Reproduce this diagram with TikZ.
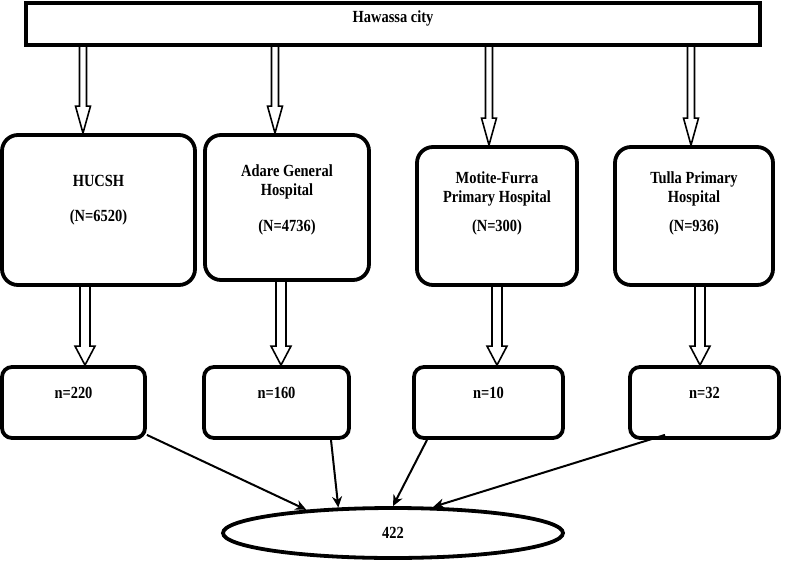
\documentclass[tikz,border=0pt]{standalone}
\usepackage{fontspec}
\newfontfamily\chartfont{Liberation Serif}[FakeStretch=0.85]
\usetikzlibrary{calc, arrows.meta, shapes.geometric}

\tikzset{
  citybox/.style={draw, line width=1.9pt, minimum width=367pt, minimum height=21pt, inner sep=0pt},
  hospbox/.style={draw, line width=1.9pt, rounded corners=8pt, inner sep=0pt},
  countbox/.style={draw, line width=1.9pt, rounded corners=5pt, minimum height=35.5pt, inner sep=0pt},
  chartlabel/.style={font=\chartfont\bfseries\fontsize{8.5}{9.5}\selectfont, inner sep=0pt},
  hollow/.style={line width=0.8pt},
  feed/.style={line width=1pt, -{Stealth[length=5.5pt, width=5pt]}}
}

% block arrow: #1 start, #2 tip, #3 shaft half width, #4 head half width, #5 head length
\newcommand{\hollowarrow}[5]{%
  \draw[hollow] ($(#1)+(-#3,0)$) -- ($(#2)+(-#3,-#5)$) -- ($(#2)+(-#4,-#5)$) -- (#2)
    -- ($(#2)+(#4,-#5)$) -- ($(#2)+(#3,-#5)$) -- ($(#1)+(#3,0)$);}

\begin{document}
\begin{tikzpicture}[x=0.5pt, y=-0.5pt]
    \useasboundingbox (0,0) rectangle (789,563);

    % City
    \node[citybox, chartlabel, text height=8.3pt, text depth=9.7pt] (city) at (393,24) {Hawassa city};

    % Hospitals
    \node[hospbox, minimum width=96.5pt, minimum height=75pt] (hucsh) at (98.5,210) {};
    \node[hospbox, minimum width=82pt, minimum height=72.5pt] (adare) at (287,207.5) {};
    \node[hospbox, minimum width=80pt, minimum height=69pt] (motite) at (497,216) {};
    \node[hospbox, minimum width=79pt, minimum height=69pt] (tulla) at (694,216) {};
    \node[chartlabel, align=center] (hucsh-txt) at ([yshift=5pt]hucsh.center) {HUCSH\\[8pt](N=6520)};
    \node[chartlabel, align=center] (adare-txt) at ([yshift=4pt]adare.center) {Adare General\\Hospital\\[8.5pt](N=4736)};
    \node[chartlabel, align=center] (motite-txt) at ([yshift=6.25pt]motite.center) {Motite-Furra\\Primary Hospital\\[5pt](N=300)};
    \node[chartlabel, align=center] (tulla-txt) at ([yshift=6.25pt]tulla.center) {Tulla Primary\\Hospital\\[5pt](N=936)};

    % Sample sizes
    \foreach \name/\cx/\w/\val in {hucsh-n/73.5/71.5pt/220, adare-n/276.5/72.5pt/160,
                                   motite-n/488.5/74.5pt/10, tulla-n/704.5/74.5pt/32} {
        \node[countbox, minimum width=\w] (\name) at (\cx,402.5) {};
        \node[chartlabel] (\name-txt) at ([yshift=4.75pt]\name.center) {n=\val};
    }

    % Total
    \node[draw, ellipse, line width=1.9pt, minimum width=170pt, minimum height=25pt, inner sep=0pt,
          font=\chartfont\bfseries\fontsize{8.5}{9.5}\selectfont] (total) at (393,533) {422};

    % Block arrows city -> hospitals -> samples
    \foreach \hosp/\dx in {hucsh/-7.75pt, adare/-6pt, motite/-4pt, tulla/-1.5pt}
        \coordinate (\hosp-in) at ([xshift=\dx]\hosp.north);
    \foreach \hosp/\dx in {hucsh/5.75pt, adare/2.25pt, motite/4.25pt, tulla/-2.25pt}
        \coordinate (\hosp-out) at ([xshift=\dx]\hosp-n.north);
    \foreach \hosp in {hucsh, adare, motite, tulla} {
        \hollowarrow{city.south -| \hosp-in}{\hosp-in}{3.5}{7.5}{27}
        \hollowarrow{\hosp.south -| \hosp-out}{\hosp-out}{5}{10}{19}
    }

    % Samples -> total
    \draw[feed] ([yshift=2.5pt]hucsh-n.south east) -- (total.165);
    \draw[feed] ([xshift=27.25pt]adare-n.south) -- (total.155);
    \draw[feed] ([xshift=-30.75pt]motite-n.south) -- (total.north);
    \draw[feed] ([xshift=-19.75pt, yshift=2.5pt]tulla-n.south) -- (total.33);
\end{tikzpicture}
\end{document}
